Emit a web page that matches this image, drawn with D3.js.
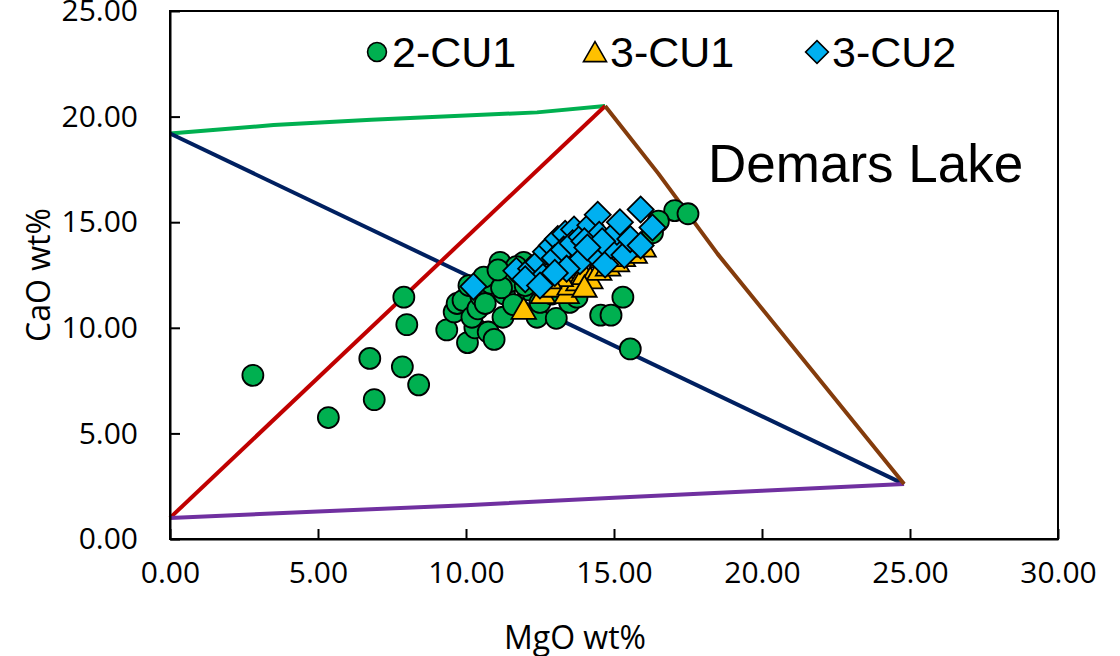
<!DOCTYPE html>
<html>
<head>
<meta charset="utf-8">
<script src="https://cdn.jsdelivr.net/npm/d3@7"></script>
<style>
  body { margin: 0; background: #fff; }
</style>
</head>
<body>
<svg id="chart" width="1120" height="656"></svg>
<script>
// tick values
const xTicks = [0, 5, 10, 15, 20, 25, 30];
const yTicks = [0, 5, 10, 15, 20, 25];

// reference lines [MgO, CaO]
const greenLine = [[0, 19.2], [3.5, 19.6], [6.8, 19.85], [12.4, 20.2], [14.7, 20.5]];
const brownLine = [[14.7, 20.5], [16.5, 17.3], [18.5, 13.5], [24.8, 2.6]];
const navyLine = [[0, 19.2], [24.8, 2.6]];
const redLine = [[0, 1.0], [14.7, 20.5]];
const purpleLine = [[0, 1.0], [5, 1.3], [10, 1.6], [15, 1.95], [20, 2.28], [24.8, 2.6]];

// 2-CU1 samples
const cu2_1 = [
  [2.8, 7.75], [5.35, 5.75], [6.75, 8.55], [6.9, 6.6], [7.85, 8.15], [8.4, 7.3],
  [7.9, 11.45], [8.0, 10.15], [15.55, 9.0], [15.3, 11.45], [14.55, 10.6], [14.9, 10.6],
  [17.05, 15.55], [17.5, 15.4], [16.5, 15.05], [16.3, 14.5],
  [9.35, 9.9], [9.6, 10.75], [9.7, 11.15], [9.9, 11.3], [10.05, 9.3], [10.3, 10.0],
  [10.2, 10.5], [10.4, 10.9], [10.5, 11.5], [10.65, 11.15], [10.75, 9.8], [10.95, 9.45],
  [10.85, 12.1], [11.0, 12.5], [11.15, 13.1], [11.25, 10.5], [11.3, 11.6], [11.5, 12.2],
  [11.6, 11.1], [11.8, 12.6], [11.95, 13.1], [12.1, 11.8], [12.3, 12.4], [12.4, 10.5],
  [12.5, 11.2], [12.7, 12.8], [12.9, 11.6], [13.05, 10.45], [13.2, 12.1], [13.5, 11.2],
  [13.75, 11.45], [13.2, 13.0], [12.0, 12.0], [11.7, 12.9], [10.1, 12.0], [10.6, 12.4],
  [11.2, 11.9], [11.08, 12.74]
];

// 3-CU1 samples
const cu3_1 = [
  [11.95, 10.85], [12.6, 11.6], [13.0, 11.9], [13.4, 11.6], [13.5, 12.0], [13.8, 12.2],
  [14.0, 12.5], [14.2, 12.3], [14.5, 12.7], [14.8, 12.9], [15.1, 13.1], [15.3, 13.35],
  [15.7, 13.5], [16.0, 13.8], [13.2, 12.4], [14.0, 11.9], [12.8, 12.3], [14.6, 13.3]
];

// 3-CU2 samples
const cu3_2 = [
  [10.25, 11.95], [11.7, 12.7], [12.2, 12.8], [12.45, 13.1], [12.7, 13.6], [12.9, 13.9],
  [13.1, 14.2], [13.35, 14.45], [13.65, 14.65], [13.0, 13.3], [13.3, 13.7], [13.6, 14.0],
  [13.9, 14.3], [14.2, 14.85], [14.45, 15.35], [14.5, 14.4], [14.0, 14.1], [13.85, 13.15],
  [13.4, 12.8], [12.6, 12.4], [13.0, 12.6], [14.35, 13.5], [14.7, 13.0], [14.9, 13.9],
  [15.1, 14.55], [15.35, 13.45], [15.55, 14.2], [15.9, 13.9], [15.9, 15.6], [16.3, 14.75],
  [15.2, 15.0], [14.6, 14.1], [12.0, 12.3], [12.5, 12.0], [14.1, 13.8]
];

const margin = { left: 170, right: 62, top: 11, bottom: 117 };
const width = 1120, height = 656;
const AXIS_FONT = '"Open Sans", sans-serif';
const LEGEND_FONT = '"Liberation Sans", Arial, sans-serif';

const svg = d3.select('#chart');

const x = d3.scaleLinear().domain([0, 30]).range([margin.left, width - margin.right]);
const y = d3.scaleLinear().domain([0, 25]).range([height - margin.bottom, margin.top]);

// reference lines
const line = d3.line().x(d => x(d[0])).y(d => y(d[1]));
const lines = [
  { data: greenLine, color: '#00B050' },
  { data: navyLine, color: '#002060' },
  { data: redLine, color: '#C00000' },
  { data: purpleLine, color: '#7030A0' },
  { data: brownLine, color: '#843C0C' }
];
lines.forEach(l => {
  svg.append('path')
    .attr('d', line(l.data))
    .attr('fill', 'none')
    .attr('stroke', l.color)
    .attr('stroke-width', 4)
    .attr('stroke-linejoin', 'round');
});

// markers
const circleSym = d3.symbol().type(d3.symbolCircle).size(Math.PI * 10.5 * 10.5);
const triSym = d3.symbol().type(d3.symbolTriangle).size(260);
const diaSym = d3.symbol().type(d3.symbolSquare).size(340);

svg.append('g').selectAll('path')
  .data(cu2_1).join('path')
  .attr('d', circleSym)
  .attr('transform', d => `translate(${x(d[0])},${y(d[1])})`)
  .attr('fill', '#00B050').attr('stroke', '#000').attr('stroke-width', 1.8);

svg.append('g').selectAll('path')
  .data(cu3_1).join('path')
  .attr('d', triSym)
  .attr('transform', d => `translate(${x(d[0])},${y(d[1]) + 2})`)
  .attr('fill', '#FFC000').attr('stroke', '#000').attr('stroke-width', 1.8);

svg.append('g').selectAll('path')
  .data(cu3_2).join('path')
  .attr('d', diaSym)
  .attr('transform', d => `translate(${x(d[0])},${y(d[1])}) rotate(45)`)
  .attr('fill', '#00B0F0').attr('stroke', '#000').attr('stroke-width', 1.8);

// plot frame
svg.append('rect')
  .attr('x', x(0)).attr('y', y(25))
  .attr('width', x(30) - x(0)).attr('height', y(0) - y(25))
  .attr('fill', 'none').attr('stroke', '#000').attr('stroke-width', 2);

// axes with inward ticks
const xAxis = d3.axisBottom(x).tickValues(xTicks).tickSizeInner(-10).tickSizeOuter(0)
  .tickFormat(d3.format('.2f')).tickPadding(23);
const gx = svg.append('g').attr('transform', `translate(0,${y(0)})`).call(xAxis);
gx.attr('font-size', null).attr('font-family', null);
gx.select('.domain').attr('stroke-width', 2);
gx.selectAll('.tick line').attr('stroke-width', 2);
gx.selectAll('.tick text').style('font-family', AXIS_FONT).style('font-size', '30px').style('fill', '#000');

const yAxis = d3.axisLeft(y).tickValues(yTicks).tickSizeInner(-10).tickSizeOuter(0)
  .tickFormat(d3.format('.2f')).tickPadding(32);
const gy = svg.append('g').attr('transform', `translate(${x(0)},0)`).call(yAxis);
gy.attr('font-size', null).attr('font-family', null);
gy.select('.domain').attr('stroke-width', 2);
gy.selectAll('.tick line').attr('stroke-width', 2);
gy.selectAll('.tick text').style('font-family', AXIS_FONT).style('font-size', '30px').style('fill', '#000');

// axis titles
svg.append('text')
  .style('font-family', AXIS_FONT).style('font-size', '32px')
  .attr('x', 575).attr('y', 649)
  .attr('text-anchor', 'middle')
  .text('MgO wt%');

svg.append('text')
  .style('font-family', AXIS_FONT).style('font-size', '32px')
  .attr('transform', `translate(50,275) rotate(-90)`)
  .attr('text-anchor', 'middle')
  .text('CaO wt%');

// legend
const legend = [
  { label: '2-CU1', sym: d3.symbol().type(d3.symbolCircle).size(280), fill: '#00B050', rot: 0, x: 377, dy: 0 },
  { label: '3-CU1', sym: d3.symbol().type(d3.symbolTriangle).size(230), fill: '#FFC000', rot: 0, x: 595, dy: 3 },
  { label: '3-CU2', sym: d3.symbol().type(d3.symbolSquare).size(260), fill: '#00B0F0', rot: 45, x: 817, dy: 0 }
];
legend.forEach(l => {
  svg.append('path')
    .attr('d', l.sym)
    .attr('transform', `translate(${l.x},${52 + l.dy}) rotate(${l.rot})`)
    .attr('fill', l.fill).attr('stroke', '#000').attr('stroke-width', 1.6);
  svg.append('text')
    .style('font-family', LEGEND_FONT).style('font-size', '43px')
    .attr('x', l.x + 15).attr('y', 67)
    .text(l.label);
});

svg.append('text')
  .style('font-family', LEGEND_FONT).style('font-size', '53px')
  .attr('x', 708).attr('y', 182)
  .text('Demars Lake');
</script>
</body>
</html>
